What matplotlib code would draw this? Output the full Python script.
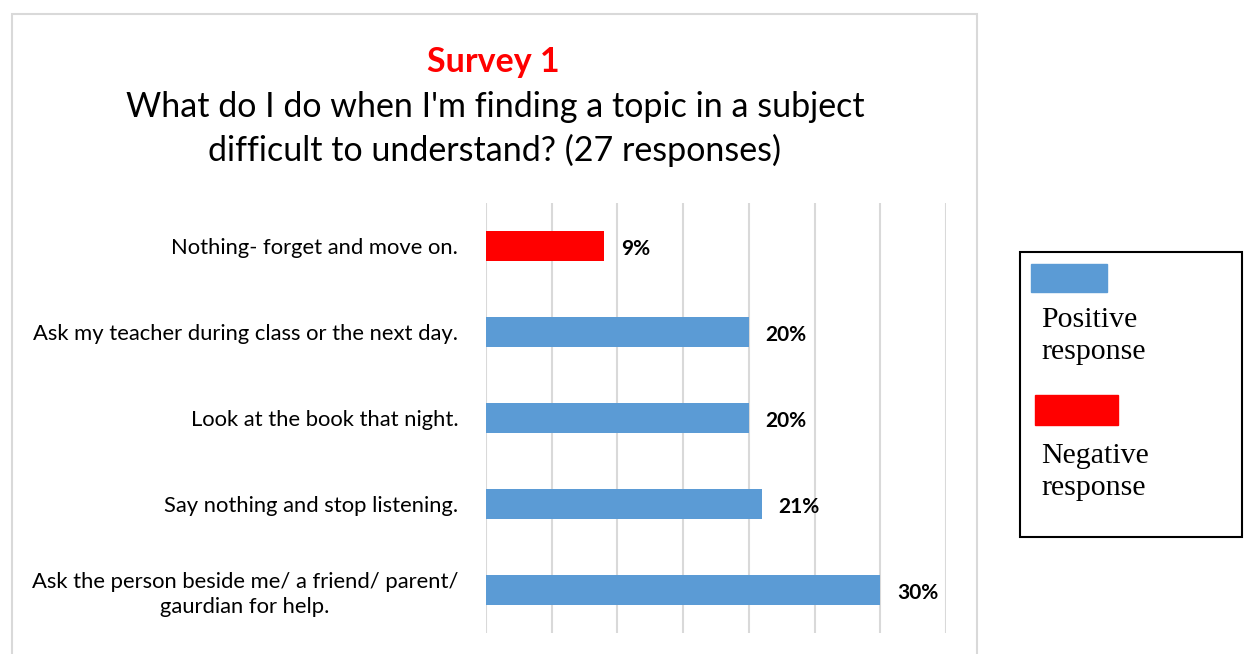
import matplotlib.pyplot as plt
from matplotlib.patches import Rectangle

# Survey answers, bottom to top as drawn
categories = [
    "Ask the person beside me/ a friend/ parent/\ngaurdian for help.",
    "Say nothing and stop listening.",
    "Look at the book that night.",
    "Ask my teacher during class or the next day.",
    "Nothing- forget and move on.",
]
values = [30, 21, 20, 20, 9]
kinds = ["pos", "pos", "pos", "pos", "neg"]
x_ticks = [0, 5, 10, 15, 20, 25, 30, 35]

blue = "#5B9BD5"
red = "#FF0000"
sans = ["Lato", "DejaVu Sans"]

W, H = 1244, 654
fig = plt.figure(figsize=(W / 100, H / 100), dpi=100)

# outer chart frame
fig.patches.append(Rectangle((12 / W, -0.1), (977 - 12) / W, 1.1 - 14 / H,
                             transform=fig.transFigure, fill=False,
                             edgecolor="#d9d9d9", linewidth=1.5))

ax = fig.add_axes([486 / W, (H - 633) / H, (946 - 486) / W, (633 - 203) / H])
colors = [blue if k == "pos" else red for k in kinds]
ypos = range(len(categories))
ax.barh(ypos, values, height=0.35, color=colors, zorder=3)

ax.set_xlim(0, 35)
ax.set_ylim(-0.5, len(categories) - 0.5)
ax.set_xticks(x_ticks)
ax.xaxis.grid(True, color="#d9d9d9", linewidth=1.5, zorder=0)
ax.tick_params(axis="x", length=0, labelbottom=False)
ax.tick_params(axis="y", length=0, pad=20)
for s in ax.spines.values():
    s.set_visible(False)

ax.set_yticks(list(ypos))
ax.set_yticklabels(categories, fontsize=15.8, family=sans,
                   multialignment="center", linespacing=1.3)

for y, v in zip(ypos, values):
    ax.annotate(f"{v}%", (v, y), xytext=(12, -2), textcoords="offset points",
                va="center", ha="left", fontsize=15, fontweight="bold",
                family=sans)

fig.text(493 / W, 1 - 62 / H, "Survey 1", color=red, fontsize=24.5,
         fontweight="bold", ha="center", va="center", family=sans)
fig.text(495 / W, 1 - 129 / H,
         "What do I do when I'm finding a topic in a subject\ndifficult to understand? (27 responses)",
         fontsize=24.5, ha="center", va="center", family=sans, linespacing=1.42)

# legend box drawn by hand
fig.patches.append(Rectangle((1020 / W, 1 - 537 / H), 222 / W, 285 / H,
                             transform=fig.transFigure, fill=False,
                             edgecolor="black", linewidth=1.5))
fig.patches.append(Rectangle((1031 / W, 1 - 292 / H), 76 / W, 28 / H,
                             transform=fig.transFigure, color=blue))
fig.patches.append(Rectangle((1035 / W, 1 - 425 / H), 83 / W, 30 / H,
                             transform=fig.transFigure, color=red))
serif = ["Liberation Serif", "DejaVu Serif"]
fig.text(1041 / W, 1 - 336 / H, "Positive\nresponse", fontsize=21.5,
         family=serif, ha="left", va="center", linespacing=1.3)
fig.text(1041 / W, 1 - 472 / H, "Negative\nresponse", fontsize=21.5,
         family=serif, ha="left", va="center", linespacing=1.3)

fig.savefig("out.png", dpi=100)
